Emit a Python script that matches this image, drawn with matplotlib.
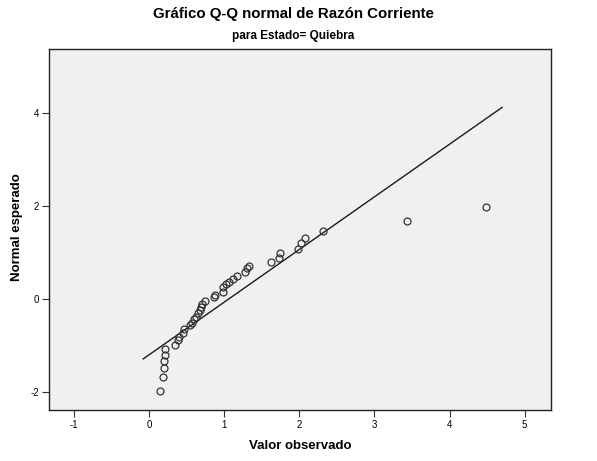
import matplotlib
matplotlib.use("Agg")
import matplotlib.pyplot as plt
import numpy as np

plt.rcParams['font.family'] = ['Liberation Sans', 'DejaVu Sans']

# Observed values (Razón Corriente) and expected normal values
observed = [0.15, 0.19, 0.195, 0.20, 0.21, 0.21, 0.35, 0.39, 0.40, 0.456,
            0.47, 0.54, 0.57, 0.60, 0.63, 0.656, 0.68, 0.69, 0.71, 0.745,
            0.87, 0.88, 0.98, 0.99, 1.03, 1.07, 1.12, 1.17, 1.28, 1.30,
            1.33, 1.62, 1.73, 1.75, 1.99, 2.02, 2.07, 2.32, 3.44, 4.48]
expected = [-1.99, -1.68, -1.48, -1.33, -1.20, -1.08, -0.99, -0.88, -0.81, -0.74,
            -0.65, -0.56, -0.51, -0.44, -0.38, -0.31, -0.24, -0.17, -0.11, -0.04,
            0.04, 0.09, 0.16, 0.25, 0.32, 0.37, 0.43, 0.49, 0.58, 0.66,
            0.72, 0.80, 0.875, 0.98, 1.07, 1.20, 1.31, 1.47, 1.67, 1.97]

# Reference line parameters
line_mean = 1.062
line_sd = 0.882
line_x = [-0.076, 4.70]

x_ticks = [-1, 0, 1, 2, 3, 4, 5]
y_ticks = [-2, 0, 2, 4]

fig = plt.figure(figsize=(5.97, 4.61), dpi=100)
ax = fig.add_axes([49/597, 1 - 410/461, (551-49)/597, (410-49)/461])
ax.set_facecolor('#F0F0F0')

lx = np.array(line_x)
ax.plot(lx, (lx - line_mean) / line_sd, color='#1a1a1a', lw=1.0, zorder=2)
ax.plot(observed, expected, linestyle='none', marker='o', markersize=5,
        markerfacecolor='none', markeredgecolor='#333333', markeredgewidth=0.9, zorder=3)

ax.set_xlim(-1.33, 5.35)
ax.set_ylim(-2.39, 5.38)
ax.set_xticks(x_ticks)
ax.set_yticks(y_ticks)
ax.set_xticklabels([str(t) for t in x_ticks])
ax.set_yticklabels([str(t) for t in y_ticks])
ax.tick_params(axis='both', direction='out', length=5, width=0.8, labelsize=7, color='#333333', pad=2)
for s in ax.spines.values():
    s.set_color('#222222')
    s.set_linewidth(1.0)

fig.text(300/597, 1 - 446/461, 'Valor observado', ha='center', va='center',
         fontsize=9.5, fontweight='bold')
fig.text(17.5/597, 1 - 227/461, 'Normal esperado', ha='center', va='center',
         rotation=90, fontsize=9.5, fontweight='bold')

fig.text(293/597, 1 - 14/461, 'Gráfico Q-Q normal de Razón Corriente', ha='center', va='center',
         fontsize=10.8, fontweight='bold')
fig.text(293/597, 1 - 36/461, 'para Estado= Quiebra', ha='center', va='center',
         fontsize=8.5, fontweight='bold')

fig.savefig('out.png', dpi=100, facecolor='white')
